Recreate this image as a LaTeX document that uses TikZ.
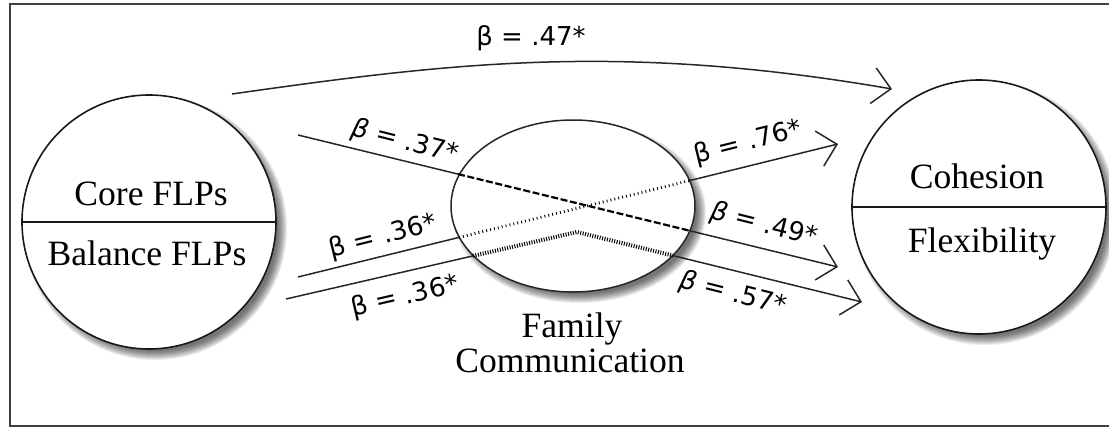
\documentclass[tikz,border=0pt]{standalone}
\usepackage{fontspec}
\setmainfont{Liberation Serif}
\newfontfamily\lab{DejaVu Sans}
\usetikzlibrary{arrows.meta,shapes.geometric}
\begin{document}
\begin{tikzpicture}[x=0.5pt,y=-0.5pt,
  >={Straight Barb[length=9pt,width=18pt]},
  conn/.style={line width=0.75pt, draw=black!85},
  dashpat/.style={line width=1.1pt, dash pattern=on 3.5pt off 1.3pt},
  dotpat/.style={line width=1.4pt, dash pattern=on 0.45pt off 1.55pt},
  thickdot/.style={line width=2pt, dash pattern=on 0.5pt off 0.75pt},
  bigcircle/.style={circle, draw=black!90, line width=0.8pt, fill=white, minimum size=127pt, inner sep=0pt},
  midellipse/.style={ellipse, draw=black!85, line width=0.75pt, fill=white, minimum width=122pt, minimum height=86pt, inner sep=0pt},
  serif/.style={font=\fontsize{17.8pt}{17pt}\selectfont, inner sep=0pt},
  lbl/.style={font=\lab\fontsize{13pt}{15pt}\selectfont, inner sep=0pt},
  frame/.style={line width=1pt, draw=black!75}
]
\useasboundingbox (0,0) rectangle (1109,429);
\draw[frame] (10,4) rectangle (1125,426);

% soft shadows
\foreach \k in {0,...,9}{
  \fill[black,opacity=0.075] (155,228) circle[radius=132-\k];
  \fill[black,opacity=0.075] (985,213) circle[radius=132-\k];
  \fill[black,opacity=0.075] (579,212) ellipse[x radius=127-\k, y radius=91-\k];
}

% main shapes
\node[bigcircle] (L) at (149,222) {};
\node[bigcircle] (R) at (979,207) {};
\node[midellipse] (M) at (573,206) {};
\draw[line width=0.8pt, draw=black!90] (L.west) -- (L.east);
\draw[line width=0.8pt, draw=black!90] (R.west) -- (R.east);

\node[serif, anchor=base] (Lt) at (151,205) {Core FLPs};
\node[serif, anchor=base] (Lb) at (147,265) {Balance FLPs};
\node[serif, anchor=base] (Rt) at (977,188) {Cohesion};
\node[serif, anchor=base] (Rb) at (982,252) {Flexibility};
\node[serif, anchor=base] (Mt1) at (572,337) {Family};
\node[serif, anchor=base] (Mt2) at (570,372) {Communication};

% connector end points
\coordinate (s47) at (232,94);
\coordinate (t47) at (892,89);
\coordinate (s37) at (298,135);
\coordinate (a37) at (458,174.1);
\coordinate (b37) at (688,230.3);
\coordinate (t49) at (838,267);
\coordinate (s36) at (298,277);
\coordinate (a36) at (459,237.4);
\coordinate (b36) at (690,180.5);
\coordinate (t76) at (838,144);
\coordinate (s36b) at (286,299);
\coordinate (a36b) at (473,255.9);
\coordinate (pk) at (577,232);
\coordinate (b57) at (673,255.6);
\coordinate (t57) at (862,302);

% direct path
\draw[conn,->] (s47) .. controls (450,63) and (620,42) .. (t47);

% Core -> Comm -> Flexibility
\draw[conn] (s37) -- (a37);
\draw[dashpat] (a37) -- (b37);
\draw[conn,->] (b37) -- (t49);

% Balance -> Comm -> Cohesion
\draw[conn] (s36) -- (a36);
\draw[dotpat] (a36) -- (b36);
\draw[conn,->] (b36) -- (t76);

% Balance -> Comm -> Flexibility
\draw[conn] (s36b) -- (a36b);
\draw[thickdot] (a36b) -- (pk) -- (b57);
\draw[conn,->] (b57) -- (t57);

% labels
\node[lbl] (l47) at (531,38) {β = .47*};
\node[lbl, rotate=-14] (l37) at (405,142) {{\itshape β} = .37*};
\node[lbl, rotate=14] (l36a) at (383,237) {β = .36*};
\node[lbl, rotate=13] (l36b) at (405,297) {β = .36*};
\node[lbl, rotate=14] (l76) at (748,143) {β = .76*};
\node[lbl, rotate=-14] (l49) at (764,225) {{\itshape β} = .49*};
\node[lbl, rotate=-14] (l57) at (733,294) {{\itshape β} = .57*};
\end{tikzpicture}
\end{document}
